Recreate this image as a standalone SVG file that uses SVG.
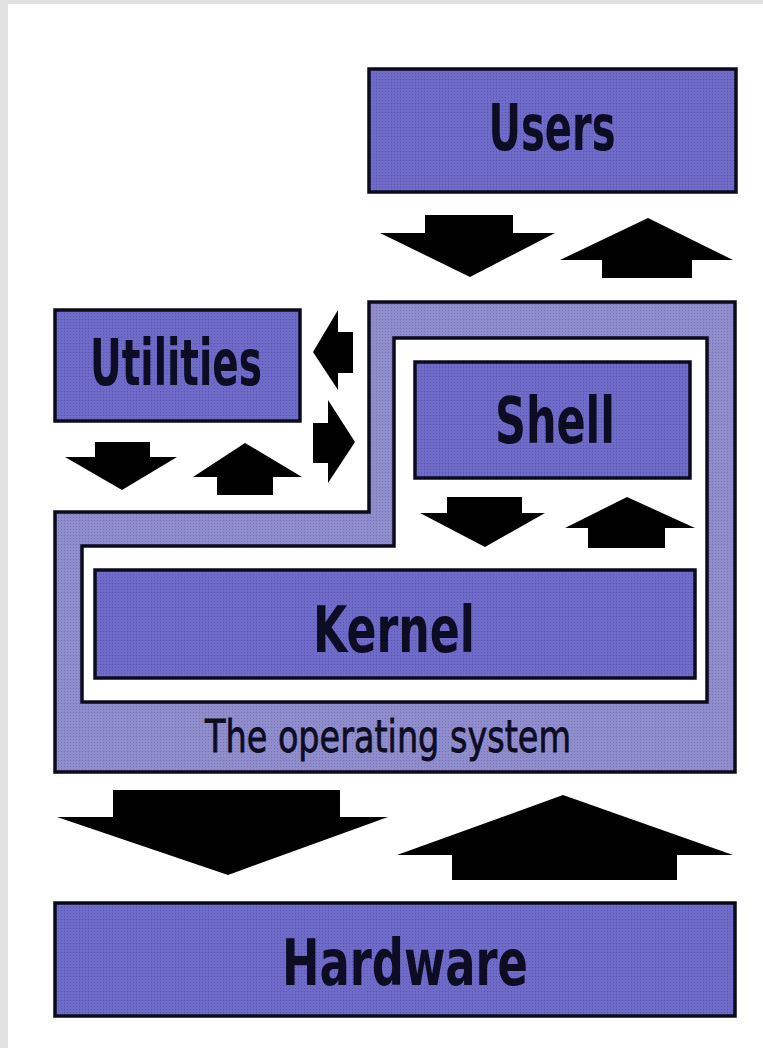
<svg xmlns="http://www.w3.org/2000/svg" width="763" height="1048" viewBox="0 0 763 1048">
  <defs>
    <pattern id="dots" width="3" height="3" patternUnits="userSpaceOnUse">
      <rect width="3" height="3" fill="#6f6bc8"/>
      <rect x="1" y="1" width="1" height="1" fill="#5a56b0"/>
    </pattern>
    <pattern id="dotsLight" width="3" height="3" patternUnits="userSpaceOnUse">
      <rect width="3" height="3" fill="#8f8dcb"/>
      <rect x="1" y="1" width="1" height="1" fill="#7674b4"/>
    </pattern>
  </defs>
  <style>
    .box { fill: url(#dots); stroke: #0b0b1e; stroke-width: 3.5; }
    .ring { fill: url(#dotsLight); stroke: #0b0b1e; stroke-width: 3.5; }
    .hole { fill: #ffffff; stroke: #0b0b1e; stroke-width: 3.5; }
    .lbl { font-family: "DejaVu Sans", "Liberation Sans", sans-serif; font-weight: bold; font-size: 64px; fill: #0c0c22; }
    .os { font-family: "DejaVu Sans", "Liberation Sans", sans-serif; font-size: 44px; fill: #0c0c22; stroke: #0c0c22; stroke-width: 0.8; }
    .arr { fill: #000000; }
  </style>
  <rect x="0" y="0" width="763" height="1048" fill="#e1e1e1"/>
  <rect x="8" y="4" width="755" height="1044" fill="#ffffff"/>

  <g id="os">
    <path class="ring" d="M369,302 H735 V772 H55 V512 H369 Z"/>
    <path class="hole" d="M394,338 H707 V702 H82 V546 H394 Z"/>
    <text class="os" x="388" y="752" text-anchor="middle" textLength="366" lengthAdjust="spacingAndGlyphs">The operating system</text>
  </g>

  <g id="users">
    <rect class="box" x="369" y="69" width="367" height="123"/>
    <text class="lbl" x="552" y="150" text-anchor="middle" textLength="127" lengthAdjust="spacingAndGlyphs">Users</text>
  </g>

  <g id="utilities">
    <rect class="box" x="55" y="310" width="245" height="111"/>
    <text class="lbl" x="176" y="385" text-anchor="middle" textLength="172" lengthAdjust="spacingAndGlyphs">Utilities</text>
  </g>

  <g id="shell">
    <rect class="box" x="415" y="362" width="275" height="116"/>
    <text class="lbl" x="555" y="443" text-anchor="middle" textLength="120" lengthAdjust="spacingAndGlyphs">Shell</text>
  </g>

  <g id="kernel">
    <rect class="box" x="95" y="570" width="600" height="108"/>
    <text class="lbl" x="394" y="652" text-anchor="middle" textLength="162" lengthAdjust="spacingAndGlyphs">Kernel</text>
  </g>

  <g id="hardware">
    <rect class="box" x="55" y="903" width="680" height="113"/>
    <text class="lbl" x="405" y="985" text-anchor="middle" textLength="246" lengthAdjust="spacingAndGlyphs">Hardware</text>
  </g>

  <g id="connectors">
    <polygon class="arr" points="425,215 513,215 513,233 555,233 470,277 380,233 425,233"/>
    <polygon class="arr" points="648,218 733,260 692,260 692,278 602,278 602,260 560,260"/>
    <polygon class="arr" points="313,352 338,310 338,332 353,332 353,373 338,373 338,390"/>
    <polygon class="arr" points="313,423 328,423 328,400 355,442 328,483 328,463 313,463"/>
    <polygon class="arr" points="95,442 150,442 150,457 177,457 122,490 65,457 95,457"/>
    <polygon class="arr" points="245,443 302,477 273,477 273,495 217,495 217,477 193,477"/>
    <polygon class="arr" points="447,497 522,497 522,513 545,513 485,547 420,513 447,513"/>
    <polygon class="arr" points="627,497 695,528 665,528 665,548 588,548 588,528 565,528"/>
    <polygon class="arr" points="113,790 340,790 340,817 388,817 228,875 57,817 113,817"/>
    <polygon class="arr" points="563,795 733,855 677,855 677,880 452,880 452,855 397,855"/>
  </g>
</svg>
